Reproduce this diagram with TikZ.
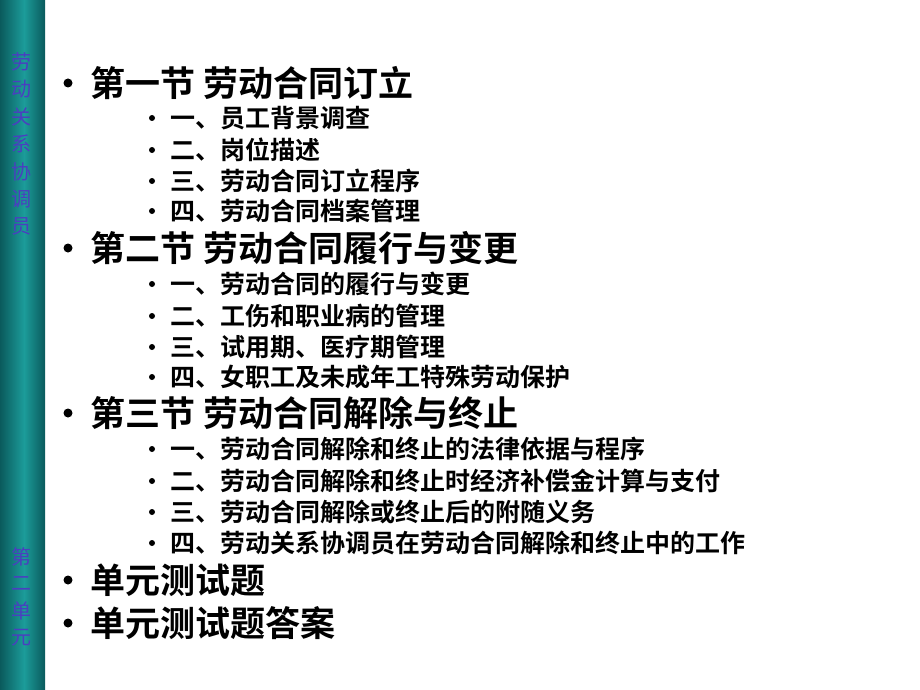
\documentclass[tikz,border=0pt]{standalone}
\usepackage{fontspec}
\newfontfamily\cjk{Noto Sans CJK SC Bold}
\newfontfamily\cjkside{Noto Sans CJK SC}
\definecolor{tealL}{HTML}{0A5A5C}
\definecolor{tealM}{HTML}{1C9C9A}
\definecolor{sidetxt}{HTML}{4A3FC0}
\begin{document}
\begin{tikzpicture}[x=1pt,y=-1pt,
  head/.style={anchor=west,font=\cjk\fontsize{35}{35}\selectfont,inner sep=0},
  sub/.style={anchor=west,font=\cjk\fontsize{25}{25}\selectfont,inner sep=0},
  bigdot/.style={circle,fill=black,inner sep=0,minimum size=9},
  smalldot/.style={circle,fill=black,inner sep=0,minimum size=6},
  side/.style={font=\cjkside\fontsize{20}{20}\selectfont,text=sidetxt,inner sep=0}]
\useasboundingbox (0,0) rectangle (920,690);
\fill[white] (0,0) rectangle (920,690);
\shade[left color=tealL,right color=tealM] (0,0) rectangle (24,690);
\shade[left color=tealM,right color=tealL] (24,0) rectangle (45,690);
\foreach \c [count=\i] in {劳,动,关,系,协,调,员}
  \node[side] (s\i) at (21,{34+\i*27.5}) {\c};
\foreach \c [count=\i] in {第,二,单,元}
  \node[side] (t\i) at (21,{530+\i*27}) {\c};
\foreach \y/\t [count=\i] in {83/第一节 劳动合同订立,248/第二节 劳动合同履行与变更,413/第三节 劳动合同解除与终止,580/单元测试题,623/单元测试题答案}{
  \node[bigdot] (hb\i) at (68,\y) {};
  \node[head] (h\i) at (90,\y) {\t};
}
\foreach \y/\t [count=\i] in {118/一、员工背景调查,150/二、岗位描述,181/三、劳动合同订立程序,211/四、劳动合同档案管理,
  284/一、劳动合同的履行与变更,316/二、工伤和职业病的管理,347/三、试用期、医疗期管理,377/四、女职工及未成年工特殊劳动保护,
  449/一、劳动合同解除和终止的法律依据与程序,481/二、劳动合同解除和终止时经济补偿金计算与支付,512/三、劳动合同解除或终止后的附随义务,543/四、劳动关系协调员在劳动合同解除和终止中的工作}{
  \node[smalldot] (sb\i) at (152,\y) {};
  \node[sub] (u\i) at (170,\y) {\t};
}
\end{tikzpicture}
\end{document}
